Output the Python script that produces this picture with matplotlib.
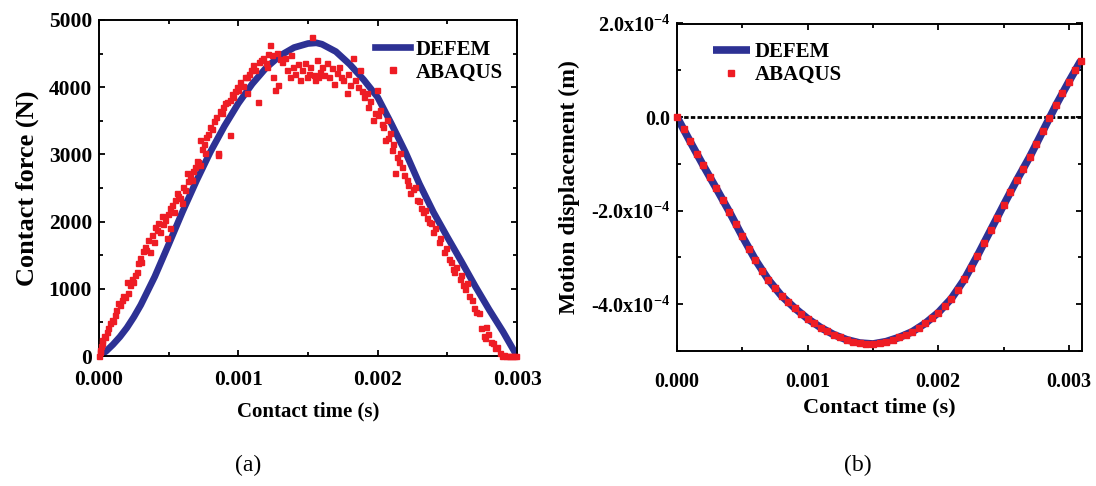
import numpy as np
import matplotlib
matplotlib.use("Agg")
import matplotlib.pyplot as plt
from matplotlib.ticker import MultipleLocator, FormatStrFormatter

plt.rcParams['font.family'] = ['Liberation Serif', 'DejaVu Serif']
plt.rcParams['font.weight'] = 'bold'
plt.rcParams['mathtext.fontset'] = 'custom'
plt.rcParams['mathtext.rm'] = 'Liberation Serif:bold'
plt.rcParams['mathtext.bf'] = 'Liberation Serif:bold'
plt.rcParams['mathtext.it'] = 'Liberation Serif:bold'

# (a) contact force, time in ms
defem_t = [0.0, 0.05, 0.1, 0.15, 0.2, 0.25, 0.3, 0.4, 0.5, 0.6, 0.7, 0.8, 0.9, 1.0, 1.1, 1.2,
           1.3, 1.4, 1.5, 1.56, 1.6, 1.7, 1.8, 1.9, 2.0, 2.1, 2.2, 2.3, 2.4, 2.5, 2.6, 2.7,
           2.8, 2.9, 3.0]
defem_f = [0, 70, 170, 285, 420, 580, 760, 1180, 1660, 2150, 2610, 3040, 3420, 3760, 4050, 4290,
           4470, 4590, 4650, 4660, 4640, 4530, 4340, 4110, 3850, 3450, 3030, 2560, 2140, 1770,
           1410, 1040, 690, 360, 0]

abq_t = [0.000, 0.005, 0.007, 0.012, 0.019, 0.025, 0.035, 0.045, 0.055, 0.065, 0.079, 0.090,
         0.100, 0.115, 0.125, 0.139, 0.150, 0.163, 0.175, 0.190, 0.200, 0.210, 0.220, 0.235,
         0.245, 0.258, 0.270, 0.280, 0.294, 0.305, 0.315, 0.330, 0.340, 0.354, 0.366, 0.380,
         0.392, 0.402, 0.415, 0.425, 0.438, 0.450, 0.462, 0.474, 0.486, 0.498, 0.510, 0.512,
         0.525, 0.535, 0.545, 0.557, 0.570, 0.580, 0.593, 0.605, 0.617, 0.630, 0.640, 0.652,
         0.665, 0.677, 0.689, 0.700, 0.712, 0.725, 0.727, 0.740, 0.750, 0.760, 0.770, 0.785,
         0.797, 0.810, 0.825, 0.840, 0.856, 0.856, 0.865, 0.880, 0.892, 0.905, 0.920, 0.940,
         0.940, 0.955, 0.964, 0.975, 0.988, 1.000, 1.015, 1.030, 1.045, 1.060, 1.060, 1.075,
         1.090, 1.108, 1.120, 1.143, 1.150, 1.165, 1.180, 1.195, 1.204, 1.215, 1.227, 1.240,
         1.250, 1.264, 1.276, 1.285, 1.300, 1.315, 1.335, 1.350, 1.370, 1.380, 1.395, 1.410,
         1.425, 1.440, 1.455, 1.479, 1.490, 1.505, 1.515, 1.527, 1.540, 1.550, 1.565, 1.575,
         1.586, 1.600, 1.615, 1.634, 1.650, 1.670, 1.685, 1.706, 1.720, 1.740, 1.753, 1.778,
         1.790, 1.801, 1.825, 1.840, 1.860, 1.873, 1.890, 1.905, 1.921, 1.933, 1.945, 1.969,
         1.980, 1.993, 2.005, 2.017, 2.030, 2.040, 2.052, 2.065, 2.075, 2.088, 2.100, 2.112,
         2.124, 2.137, 2.150, 2.160, 2.172, 2.190, 2.208, 2.220, 2.232, 2.250, 2.268, 2.280,
         2.295, 2.310, 2.325, 2.340, 2.355, 2.370, 2.385, 2.400, 2.415, 2.437, 2.450, 2.475,
         2.490, 2.513, 2.525, 2.538, 2.551, 2.565, 2.588, 2.600, 2.614, 2.630, 2.640, 2.655,
         2.680, 2.690, 2.705, 2.730, 2.745, 2.760, 2.770, 2.780, 2.795, 2.810, 2.830, 2.845,
         2.860, 2.880, 2.890, 2.905, 2.920, 2.935, 2.950, 2.965, 2.980, 2.995]
abq_f = [0, 60, 89, 150, 238, 190, 300, 280, 362, 420, 486, 540,
         520, 610, 680, 784, 760, 833, 900, 880, 1106, 933, 1050, 1150,
         1100, 1205, 1250, 1380, 1454, 1400, 1560, 1627, 1580, 1726, 1552, 1800,
         1700, 1924, 1870, 1980, 1850, 2080, 1960, 2024, 1751, 2120, 1900, 2198,
         2250, 2150, 2321, 2421, 2380, 2350, 2272, 2520, 2470, 2718, 2600, 2680,
         2619, 2760, 2817, 2900, 2880, 2842, 3214, 3080, 3150, 3016, 3260, 3300,
         3412, 3380, 3500, 3560, 3016, 2991, 3650, 3611, 3700, 3760, 3780, 3810,
         3289, 3900, 3859, 3950, 4008, 3960, 4080, 4020, 4150, 3909, 4156, 4200,
         4260, 4330, 4250, 3784, 4380, 4400, 4430, 4360, 4305, 4500, 4628, 4480,
         4150, 3958, 4504, 4033, 4420, 4380, 4430, 4250, 4156, 4480, 4305, 4200,
         4350, 4100, 4250, 4356, 4156, 4200, 4300, 4752, 4180, 4107, 4400, 4150,
         4231, 4300, 4180, 4356, 4150, 4281, 4050, 4207, 4300, 4150, 4107, 3909,
         4200, 4033, 4430, 4100, 4000, 4256, 3950, 3850, 3909, 3710, 3800, 3512,
         3620, 3958, 3580, 3661, 3450, 3412, 3214, 3512, 3250, 3314, 3065, 3150,
         2719, 2966, 2880, 3016, 2817, 2700, 2619, 2550, 2421, 2480, 2520, 2321,
         2300, 2200, 2150, 2180, 2050, 2000, 1980, 1850, 1900, 1700, 1760, 1550,
         1600, 1450, 1400, 1300, 1250, 1330, 1150, 1200, 1050, 1000, 1080, 900,
         833, 720, 650, 635, 420, 300, 263, 436, 330, 213, 188, 120,
         138, 40, 0, 10, 0, 0, 0, 0, 0, 0]

# (b) motion displacement, time in ms, displacement in 1e-4 m
disp_t = [0.0, 0.1, 0.2, 0.3, 0.4, 0.5, 0.6, 0.7, 0.8, 0.9, 1.0, 1.1, 1.2, 1.3, 1.4, 1.5,
          1.6, 1.7, 1.8, 1.9, 2.0, 2.1, 2.2, 2.3, 2.4, 2.5, 2.6, 2.7, 2.8, 2.9, 3.0, 3.09]
disp_d = [0.0, -0.52, -1.03, -1.52, -2.02, -2.55, -3.05, -3.48, -3.82, -4.08, -4.31, -4.50,
          -4.65, -4.76, -4.83, -4.85, -4.80, -4.71, -4.59, -4.41, -4.18, -3.88, -3.47, -2.96,
          -2.42, -1.88, -1.35, -0.85, -0.30, 0.25, 0.76, 1.20]

abq_dt = [0.00, 0.05, 0.10, 0.15, 0.20, 0.25, 0.30, 0.35, 0.40, 0.45, 0.50, 0.55, 0.60, 0.65,
          0.70, 0.75, 0.80, 0.85, 0.90, 0.95, 1.00, 1.05, 1.10, 1.15, 1.20, 1.25, 1.30, 1.35,
          1.40, 1.45, 1.50, 1.55, 1.60, 1.65, 1.70, 1.75, 1.80, 1.85, 1.90, 1.95, 2.00, 2.05,
          2.10, 2.15, 2.20, 2.25, 2.30, 2.35, 2.40, 2.45, 2.50, 2.55, 2.60, 2.65, 2.70, 2.75,
          2.80, 2.85, 2.90, 2.95, 3.00, 3.05, 3.09]
abq_d = [0.00, -0.26, -0.52, -0.78, -1.03, -1.28, -1.52, -1.77, -2.02, -2.29, -2.55, -2.81,
         -3.05, -3.28, -3.48, -3.66, -3.82, -3.96, -4.08, -4.20, -4.31, -4.41, -4.50, -4.58,
         -4.65, -4.71, -4.76, -4.80, -4.83, -4.85, -4.85, -4.83, -4.80, -4.76, -4.71, -4.66,
         -4.59, -4.51, -4.41, -4.30, -4.18, -4.04, -3.88, -3.69, -3.47, -3.22, -2.96, -2.69,
         -2.42, -2.15, -1.88, -1.61, -1.35, -1.10, -0.85, -0.58, -0.30, -0.02, 0.25, 0.51,
         0.76, 1.00, 1.20]

disp_ticks = [-4, -2, 0, 2]
disp_labels = ['-4.0x10$^{-4}$', '-2.0x10$^{-4}$', '0.0', '2.0x10$^{-4}$']

blue = '#2d3194'
red = '#ee1c24'

fig = plt.figure(figsize=(10.96, 4.86), dpi=100)
ax1 = fig.add_axes([99/1096, 130/486, 418/1096, 336/486])
ax2 = fig.add_axes([677/1096, 135/486, 405/1096, 327.5/486])

def style(ax, fs, xpad):
    for s in ax.spines.values():
        s.set_linewidth(1.4)
    ax.tick_params(which='both', direction='in', top=True, right=True, width=1.3,
                   labelsize=fs)
    ax.tick_params(which='major', length=4.5)
    ax.tick_params(which='minor', length=2.8)
    ax.tick_params(axis='x', pad=xpad)
    ax.tick_params(axis='y', pad=5)
    for lb in ax.get_xticklabels() + ax.get_yticklabels():
        lb.set_fontweight('bold')

# ---- (a)
t1 = np.array(defem_t) * 1e-3
ta = np.array(abq_t) * 1e-3
ax1.plot(t1, defem_f, color=blue, lw=4.8, label='DEFEM', zorder=2)
ax1.plot(ta, abq_f, ls='none', marker='s', ms=3.6, color=red, mec=red, label='ABAQUS',
         zorder=3, clip_on=False)
ax1.set_xlim(0, 0.003)
ax1.set_ylim(0, 5000)
ax1.xaxis.set_major_locator(MultipleLocator(0.001))
ax1.xaxis.set_minor_locator(MultipleLocator(0.0005))
ax1.xaxis.set_major_formatter(FormatStrFormatter('%.3f'))
ax1.yaxis.set_major_locator(MultipleLocator(1000))
ax1.yaxis.set_minor_locator(MultipleLocator(500))
ax1.set_xlabel('Contact time (s)', fontsize=15, fontweight='bold', labelpad=8)
ax1.set_ylabel('Contact force (N)', fontsize=19, fontweight='bold', labelpad=7)
style(ax1, 15.5, 10)
ax1.legend(loc='upper left', bbox_to_anchor=(0.625, 0.985), frameon=False,
           fontsize=15, handlelength=1.7, handletextpad=0.25, labelspacing=0.15,
           numpoints=1, borderpad=0.2, markerscale=1.1)

# ---- (b)
t2 = np.array(disp_t) * 1e-3
tb = np.array(abq_dt) * 1e-3
ax2.axhline(0, color='black', lw=2.0, ls=(0, (1.6, 0.8)), zorder=1)
ax2.plot(t2, disp_d, color=blue, lw=5.5, label='DEFEM', zorder=2, solid_capstyle='butt')
ax2.plot(tb, abq_d, ls='none', marker='s', ms=3.8, color=red, mec=red, label='ABAQUS',
         zorder=3, clip_on=False)
ax2.set_xlim(0, 0.0031)
ax2.set_ylim(-5, 2)
ax2.xaxis.set_major_locator(MultipleLocator(0.001))
ax2.xaxis.set_minor_locator(MultipleLocator(0.0005))
ax2.xaxis.set_major_formatter(FormatStrFormatter('%.3f'))
ax2.set_yticks(disp_ticks)
ax2.set_yticklabels(disp_labels)
ax2.yaxis.set_minor_locator(MultipleLocator(1))
ax2.set_xlabel('Contact time (s)', fontsize=16, fontweight='bold', labelpad=4)
ax2.set_ylabel('Motion displacement (m)', fontsize=17, fontweight='bold', labelpad=8)
style(ax2, 14.5, 15)
ax2.legend(loc='upper left', bbox_to_anchor=(0.053, 0.988), frameon=False,
           fontsize=15, handlelength=1.75, handletextpad=0.25, labelspacing=0.15,
           numpoints=1, borderpad=0.2)

fig.text(248/1096, 1 - 465/486, '(a)', fontsize=17, fontweight='normal', ha='center', va='center')
fig.text(858/1096, 1 - 465/486, '(b)', fontsize=17, fontweight='normal', ha='center', va='center')

fig.savefig('out.png', dpi=100)
